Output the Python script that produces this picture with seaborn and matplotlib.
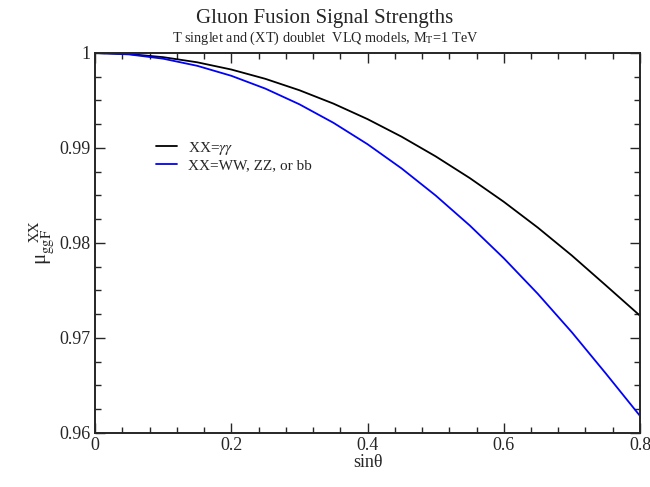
import pandas as pd
import matplotlib
matplotlib.use("Agg")
import matplotlib.pyplot as plt
import seaborn as sns
from matplotlib.ticker import MultipleLocator, FormatStrFormatter

# values
sin_theta = [0.0, 0.05, 0.10, 0.15, 0.20, 0.25, 0.30, 0.35, 0.40,
             0.45, 0.50, 0.55, 0.60, 0.65, 0.70, 0.75, 0.80]
mu_gamgam = [1.0000, 0.99989, 0.99956, 0.99902, 0.99826, 0.99728, 0.99608, 0.99467, 0.99304,
             0.99119, 0.98912, 0.98684, 0.98434, 0.98162, 0.97868, 0.97553, 0.97235]
mu_wwzzbb = [1.0000, 0.99985, 0.99940, 0.99865, 0.99760, 0.99625, 0.99460, 0.99265, 0.99040,
             0.98785, 0.98500, 0.98185, 0.97840, 0.97465, 0.97060, 0.96625, 0.96180]
labels = [r"XX=$\gamma\gamma$", "XX=WW, ZZ, or bb"]
colors = ["black", "#0000ff"]

df = pd.DataFrame({
    "s": sin_theta * 2,
    "mu": mu_gamgam + mu_wwzzbb,
    "channel": [labels[0]] * len(sin_theta) + [labels[1]] * len(sin_theta),
})

sns.set_style("ticks")
plt.rcParams["font.family"] = ["Liberation Serif", "DejaVu Serif"]
plt.rcParams["mathtext.fontset"] = "stix"

fig = plt.figure(figsize=(6.5, 4.87), dpi=100)
ax = fig.add_axes([0.1462, 0.1109, 0.8384, 0.7803])

sns.lineplot(data=df, x="s", y="mu", hue="channel", palette=colors,
             linewidth=1.3, ax=ax)

ax.set_xlim(0, 0.8)
ax.set_ylim(0.96, 1.0)
ax.xaxis.set_major_locator(MultipleLocator(0.2))
ax.xaxis.set_minor_locator(MultipleLocator(0.04))
ax.yaxis.set_major_locator(MultipleLocator(0.01))
ax.yaxis.set_minor_locator(MultipleLocator(0.0025))
ax.xaxis.set_major_formatter(FormatStrFormatter("%g"))
ax.yaxis.set_major_formatter(FormatStrFormatter("%g"))
ax.tick_params(which="both", direction="in", top=True, right=True, width=1.0)
ax.tick_params(which="major", length=7, labelsize=13, pad=3)
ax.tick_params(which="minor", length=4)
for sp in ax.spines.values():
    sp.set_linewidth(1.4)

ax.set_xlabel("sinθ", fontsize=13, labelpad=0)
ax.set_ylabel(r"μ$_{\mathrm{ggF}}^{\ \ \ \mathrm{XX}}$", fontsize=15, labelpad=2)

leg = ax.legend(loc="upper left", bbox_to_anchor=(0.112, 0.772), frameon=False,
                fontsize=11, handlelength=1.4, handletextpad=0.7,
                labelspacing=0.15, borderaxespad=0, borderpad=0, title=None)

fig.text(0.5, 0.962, "Gluon Fusion Signal Strengths", ha="center", va="center", fontsize=15)
fig.text(0.5, 0.921, "T singlet and (XT) doublet  VLQ models, M$_\\mathrm{T}$=1 TeV",
         ha="center", va="center", fontsize=10.3)

fig.savefig("out.png", dpi=100)
